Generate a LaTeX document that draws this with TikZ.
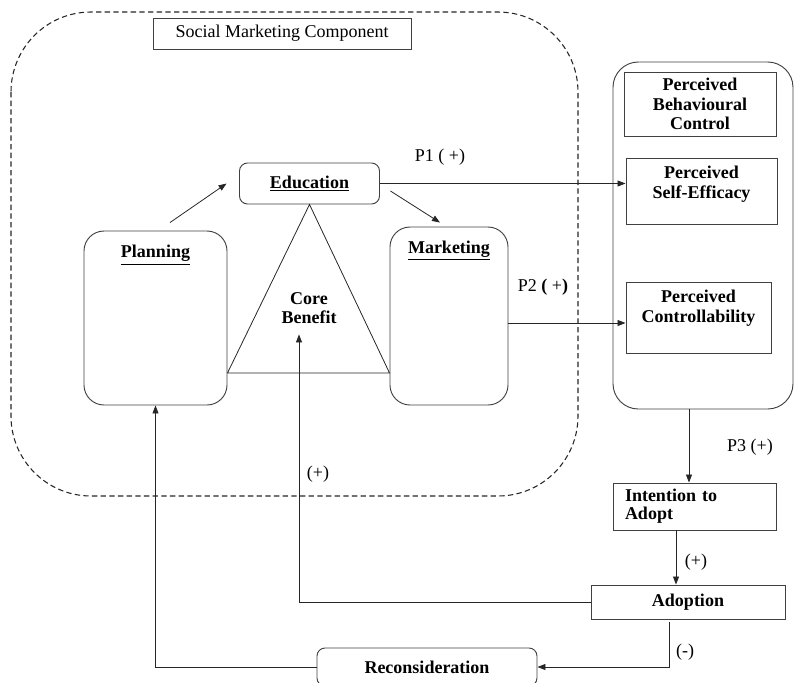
\documentclass[tikz,border=0pt]{standalone}
\usepackage{fontspec}
\setmainfont{Liberation Serif}
\usetikzlibrary{arrows.meta}

\begin{document}
\begin{tikzpicture}[x=0.75pt,y=-0.75pt,
    >={Triangle[length=6pt,width=4.5pt]},
    every node/.style={font=\fontsize{13.5}{14.5}\selectfont},
    box/.style={rectangle,draw=black!75,line width=0.7pt},
    rbox/.style={box,rounded corners=6pt},
    head/.style={anchor=north,font=\fontsize{13.5}{14.5}\selectfont\bfseries,align=center,inner sep=0pt},
    conn/.style={black!85,line width=0.6pt}]
\useasboundingbox (0,0) rectangle (794,683);

% social marketing area
\draw [black!85,line width=0.8pt,dash pattern=on 4pt off 2.5pt,rounded corners=60pt] (11,12) rectangle (578,496);
\node [box,minimum width=193.5pt,minimum height=23.25pt] (smc) at (282,33.5) {Social Marketing Component};

\node [rbox,minimum width=105pt,minimum height=30.75pt,font=\fontsize{13.5}{14.5}\selectfont\bfseries] (edu) at (309.5,183.5) {\underline{Education}};
\node [rbox,rounded corners=15pt,minimum width=107.25pt,minimum height=130.5pt,
       label={[head,yshift=-11pt]north:\underline{Planning}}] (plan) at (155.5,318) {};
\node [rbox,rounded corners=15pt,minimum width=88.5pt,minimum height=133.5pt,
       label={[head,yshift=-10.3pt]north:\underline{Marketing}}] (mkt) at (449,316) {};
\node [align=center,font=\fontsize{13.5}{14.5}\selectfont\bfseries] (core) at (309,308) {Core\\Benefit};

\coordinate (base) at (0,373);
\draw [conn] (plan.east |- base) -- (edu.south) -- (mkt.west |- base) -- cycle;

% perceived behavioural control
\node [box,rounded corners=19pt,minimum width=135pt,minimum height=260.25pt] (pbcbox) at (703,235.5) {};
\node [box,minimum width=114pt,minimum height=48pt,align=center,font=\fontsize{13.5}{14.5}\selectfont\bfseries] (pbc) at (700,104) {Perceived\\Behavioural\\Control};
\node [box,minimum width=113.25pt,minimum height=49.5pt,
       label={[head,yshift=-6.5pt]north:Perceived\\Self-Efficacy}] (pse) at (701.5,191) {};
\node [box,minimum width=108.75pt,minimum height=53.25pt,
       label={[head,yshift=-6.5pt]north:Perceived\\Controllability}] (pc) at (698.5,317.5) {};

\node [box,text width=104.25pt,inner xsep=9pt,minimum height=35.25pt,align=left,font=\fontsize{13.5}{13.5}\selectfont\bfseries] (intent) at (694.5,506.5) {Intention to\\Adopt};
\node [box,minimum width=145.5pt,minimum height=25.5pt,font=\fontsize{13.5}{14.5}\selectfont\bfseries] (adopt) at (688,602) {Adoption};
\node [rbox,minimum width=165pt,minimum height=28.5pt,font=\fontsize{13.5}{14.5}\selectfont\bfseries] (recon) at (427,667) {Reconsideration};

% connectors
\coordinate (p2) at (0,323);
\coordinate (p3) at (689,0);
\coordinate (ia) at (676,0);
\coordinate (ar) at (669,622);
    \path [->,conn] ([shift={(14.5,-8)}]plan.north) edge ([shift={(-12.5,0)}]edu.west);
    \path [->,conn] ([shift={(10.5,7.5)}]edu.east) edge ([shift={(-9,-4)}]mkt.north);
    \path [->,conn] (edu.east) edge (edu.east -| pse.west);
    \path [->,conn] (mkt.east |- p2) edge (pc.west |- p2);
    \path [->,conn] (pbcbox.south -| p3) edge (intent.north -| p3);
    \path [->,conn] (intent.south -| ia) edge (adopt.north -| ia);
\draw [->,conn] (adopt.west) -| ([shift={(-10,6)}]core.south);
\draw [->,conn] (ar) |- (recon.east);
\draw [->,conn] (recon.west) -| (plan.south);

% labels
\node (p1lbl) at (440,157) {P1 ( +)};
\node (p2lbl) at (543,287) {P2 \textbf{(} +\textbf{)}};
\node (p3lbl) at (750,447) {P3 (+)};
\node (iapos) at (696,562) {(+)};
\node (acpos) at (318,474) {(+)};
\node (arneg) at (685,652) {(-)};

\end{tikzpicture}
\end{document}
